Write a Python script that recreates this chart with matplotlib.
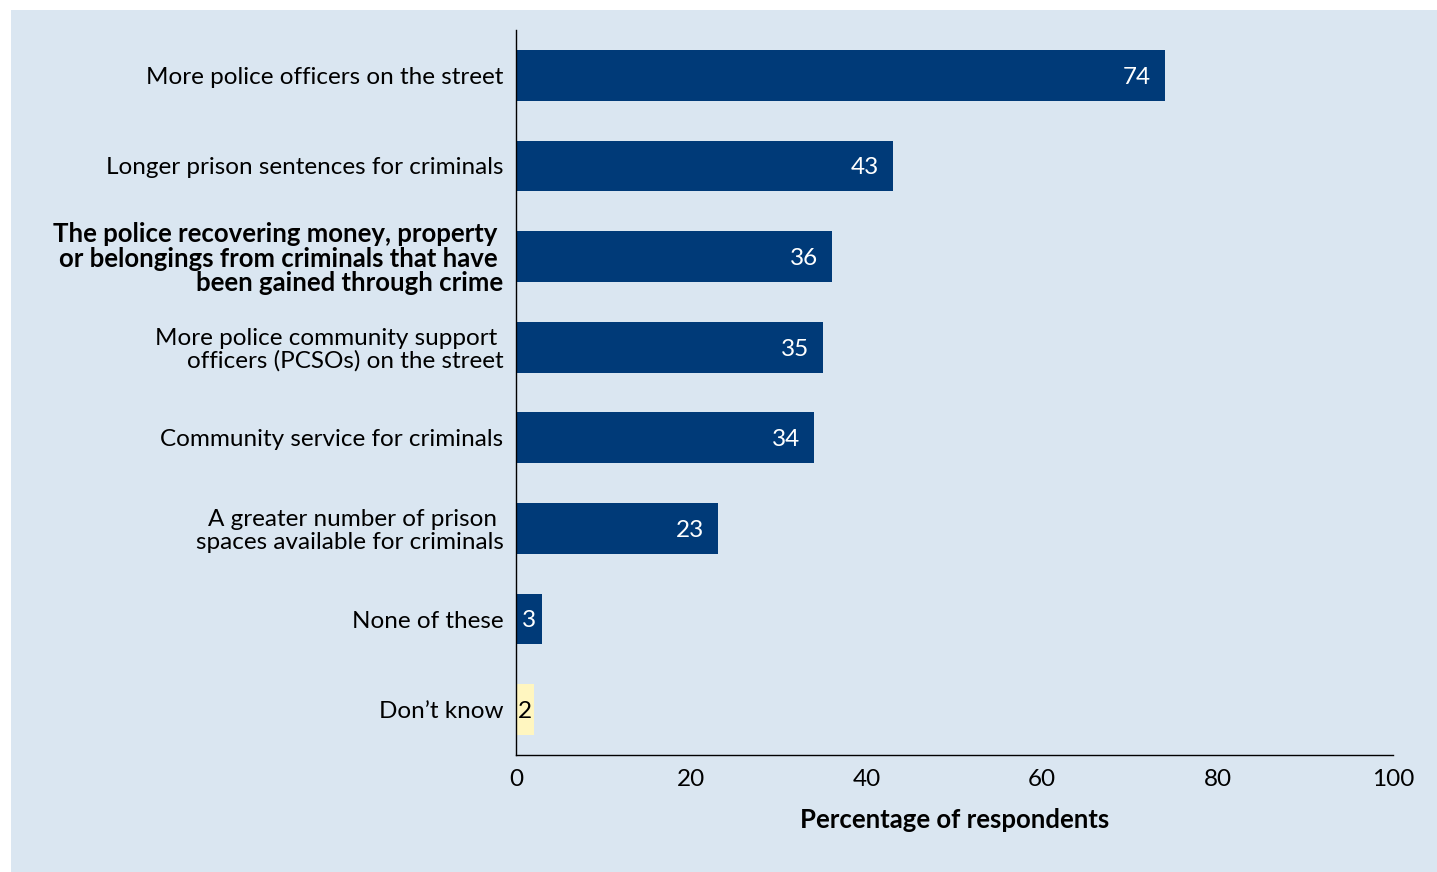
import matplotlib.pyplot as plt
from matplotlib.patches import Rectangle

categories = [
    "More police officers on the street",
    "Longer prison sentences for criminals",
    "The police recovering money, property \nor belongings from criminals that have \nbeen gained through crime",
    "More police community support \nofficers (PCSOs) on the street",
    "Community service for criminals",
    "A greater number of prison \nspaces available for criminals",
    "None of these",
    "Don\u2019t know",
]
values = [74, 43, 36, 35, 34, 23, 3, 2]
bold_idx = 2
xticks = [0, 20, 40, 60, 80, 100]

navy = "#003a78"
pale = "#fff6c0"
bg = "#dae6f1"

plt.rcParams['font.family'] = ['Lato', 'DejaVu Sans']

W, H = 1437, 872
fig = plt.figure(figsize=(W / 100, H / 100), dpi=100)
fig.patch.set_facecolor("white")
fig.add_artist(Rectangle((11 / W, 0), 1 - 11 / W, 1 - 10 / H, transform=fig.transFigure,
                         facecolor=bg, edgecolor="none", zorder=-10))

ax = fig.add_axes([516 / W, 1 - 755 / H, (1393 - 516) / W, (755 - 30) / H])
ax.set_facecolor(bg)

colors = [navy] * (len(values) - 1) + [pale]
ypos = list(range(len(values)))
ax.barh(ypos, values, height=0.56, color=colors, zorder=2)

for i, v in enumerate(values):
    tc = "black" if colors[i] == pale else "white"
    if v < 5:
        ax.text(v / 2, i + 0.02, str(v), ha="center", va="center", color=tc, fontsize=17.5)
    else:
        ax.text(v - 1.6, i + 0.02, str(v), ha="right", va="center", color=tc, fontsize=17.5)

ax.set_xlim(0, 100)
ax.set_ylim(7.5, -0.5)
ax.set_xticks(xticks)
ax.set_xticklabels([str(t) for t in xticks], fontsize=17.5)
ax.set_yticks(ypos)
ax.set_yticklabels(categories, fontsize=17.5, linespacing=1.08)
for i, lab in enumerate(ax.get_yticklabels()):
    lab.set_horizontalalignment("right")
    lab.set_multialignment("right")
    if i == bold_idx:
        lab.set_fontweight("bold")
        lab.set_fontsize(18.5)
        lab.set_linespacing(1.02)
ax.tick_params(axis="y", length=0, pad=9)
ax.tick_params(axis="x", length=0, pad=10)

ax.spines["top"].set_visible(False)
ax.spines["right"].set_visible(False)
ax.spines["left"].set_linewidth(1)
ax.spines["bottom"].set_linewidth(1)

ax.set_xlabel("Percentage of respondents", fontsize=18.5, fontweight="bold", labelpad=13)

fig.savefig("out.png", dpi=100, facecolor=fig.get_facecolor())
